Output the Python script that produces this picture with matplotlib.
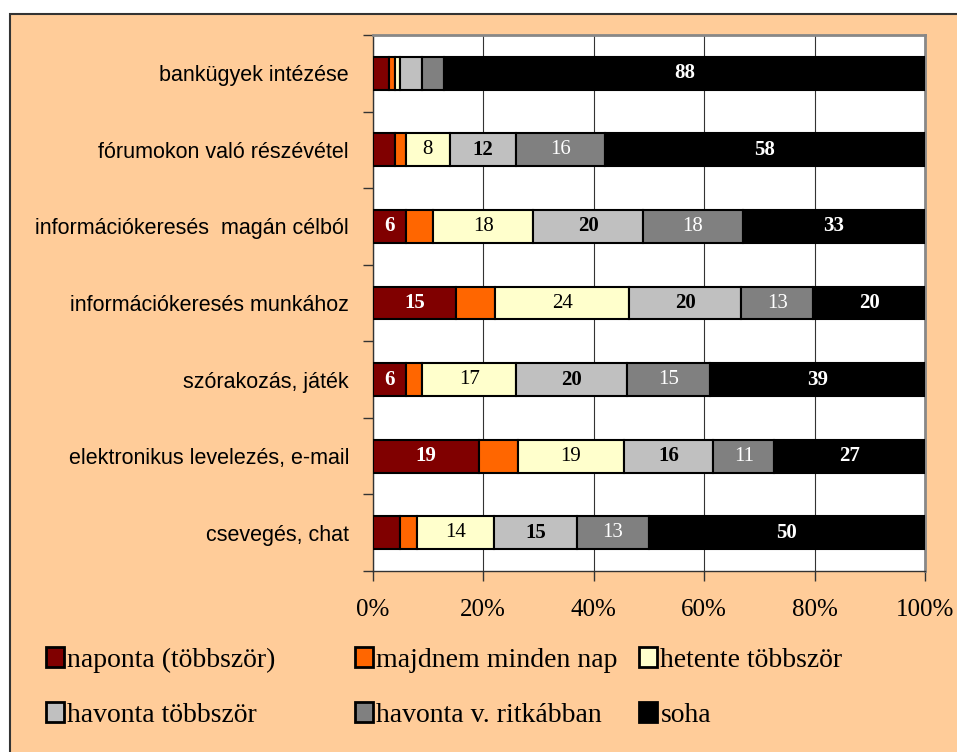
import numpy as np
import matplotlib.pyplot as plt
from matplotlib.patches import Rectangle, Patch

categories = ['bankügyek intézése', 'fórumokon való részévétel',
              'információkeresés  magán célból', 'információkeresés munkához',
              'szórakozás, játék', 'elektronikus levelezés, e-mail',
              'csevegés, chat']
series = ['naponta (többször)', 'majdnem minden nap', 'hetente többször',
          'havonta többször', 'havonta v. ritkábban', 'soha']
naponta = [3, 4, 6, 15, 6, 19, 5]
majdnem = [1, 2, 5, 7, 3, 7, 3]
hetente = [1, 8, 18, 24, 17, 19, 14]
havonta = [4, 12, 20, 20, 20, 16, 15]
ritkabban = [4, 16, 18, 13, 15, 11, 13]
soha = [88, 58, 33, 20, 39, 27, 50]

colors = ['#800000', '#FF6600', '#FFFFCC', '#C0C0C0', '#808080', '#000000']
txt_col = ['white', None, 'black', 'black', 'white', 'white']
txt_wt = ['bold', 'normal', 'normal', 'bold', 'normal', 'bold']

data = np.array([naponta, majdnem, hetente, havonta, ritkabban, soha], float)
shares = data / data.sum(axis=0) * 100

fig = plt.figure(figsize=(9.57, 7.52), dpi=100)
fig.patch.set_facecolor('white')
fig.patches.append(Rectangle((10 / 957, -0.1), 1.2, 1.1 - 14 / 752,
                             transform=fig.transFigure, facecolor='#FFCC99',
                             edgecolor='#333333', linewidth=1.5, zorder=-5))

ax = fig.add_axes([372.7 / 957, 1 - 571 / 752, (925 - 372.7) / 957, (571 - 35) / 752])
ax.set_zorder(2)
ax.set_facecolor('white')

y = np.arange(len(categories))
left = np.zeros(len(categories))
for i in range(len(series)):
    ax.barh(y, shares[i], left=left, height=0.43, color=colors[i],
            edgecolor='black', linewidth=1.5, label=series[i], zorder=3)
    for j in range(len(categories)):
        # the orange series carries no labels in the original
        if txt_col[i] and data[i, j] >= 6:
            ax.text(left[j] + shares[i, j] / 2, y[j], f'{int(data[i, j])}',
                    ha='center', va='center', color=txt_col[i],
                    fontweight=txt_wt[i], fontsize=15, family='Liberation Serif',
                    zorder=4)
    left += shares[i]

ax.set_xlim(0, 100)
ax.set_ylim(len(categories) - 0.5, -0.5)
ax.set_xticks(np.arange(0, 101, 20))
ax.set_xticklabels([f'{v}%' for v in range(0, 101, 20)],
                   family='Liberation Serif', fontsize=18)
ax.set_yticks(y)
ax.set_yticklabels(categories, family='Liberation Sans', fontsize=15.5)
ax.set_yticks(np.arange(len(categories) + 1) - 0.5, minor=True)
ax.tick_params(axis='y', which='major', length=0, pad=17)
ax.tick_params(axis='y', which='minor', length=7, width=1, color='#333333')
ax.tick_params(axis='x', length=7, width=1, color='#333333', pad=13)
ax.grid(axis='x', color='#333333', linewidth=0.8, zorder=0)
for s in ['top', 'right']:
    ax.spines[s].set_color('#888888')
    ax.spines[s].set_linewidth(2)
for s in ['left', 'bottom']:
    ax.spines[s].set_color('#333333')
    ax.spines[s].set_linewidth(1)

# legend entries, one per slot
pos = [(46, 660), (355, 660), (639, 660), (46, 715), (355, 715), (639, 715)]
for i in range(len(series)):
    h = Patch(facecolor=colors[i], edgecolor='black', linewidth=2)
    fig.legend([h], [series[i]], loc='center left',
               bbox_to_anchor=(pos[i][0] / 957, 1 - pos[i][1] / 752),
               frameon=False, prop={'family': 'Liberation Serif', 'size': 20},
               handlelength=0.65, handleheight=0.75, handletextpad=0.12,
               borderaxespad=0, borderpad=0)

fig.savefig('out.png', dpi=100)
